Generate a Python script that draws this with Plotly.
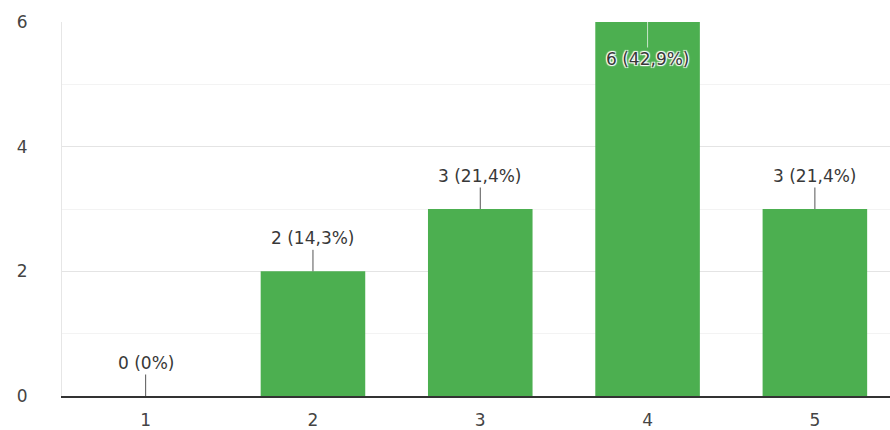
import plotly.graph_objects as go

# Response counts for each rating on the 1-5 scale
ratings = [1, 2, 3, 4, 5]
counts = [0, 2, 3, 6, 3]
y_ticks = [0, 2, 4, 6]

total = sum(counts)

FONT = "DejaVu Sans, Verdana, sans-serif"


def fmt_label(n):
    pct = round(100 * n / total, 1)
    s = f"{pct:.1f}".replace(".", ",")
    if s.endswith(",0"):
        s = s[:-2]
    return f"{n} ({s}%)"


labels = [fmt_label(c) for c in counts]
y_max = max(y_ticks)

fig = go.Figure(
    go.Bar(
        x=ratings,
        y=counts,
        width=0.625,
        marker=dict(color="#4caf50", line=dict(width=0)),
        hoverinfo="skip",
    )
)

halo = ("1px 1px 1px white, -1px -1px 1px white, "
        "1px -1px 1px white, -1px 1px 1px white")

# Value labels with a short leader line; the tallest bar gets its label inside
for r, c, lab in zip(ratings, counts, labels):
    inside = c >= y_max
    fig.add_annotation(
        x=r,
        y=c,
        text=lab,
        showarrow=True,
        arrowhead=0,
        arrowwidth=1,
        arrowcolor="#c8e6c9" if inside else "#555555",
        ax=0,
        ay=37 if inside else -33,
        font=dict(family=FONT, size=17, color="#383838", shadow=halo),
    )

fig.update_layout(
    width=890,
    height=430,
    margin=dict(l=62, r=0, t=22, b=34),
    paper_bgcolor="white",
    plot_bgcolor="white",
    showlegend=False,
    bargap=0.375,
    xaxis=dict(
        range=[0.5, 5.449],
        tickmode="array",
        tickvals=ratings,
        ticktext=[str(r) for r in ratings],
        showgrid=False,
        zeroline=False,
        showline=True,
        linecolor="#333333",
        linewidth=2,
        ticks="",
        ticklabelstandoff=8,
        tickfont=dict(family=FONT, size=17, color="#444444"),
        fixedrange=True,
    ),
    yaxis=dict(
        range=[0, y_max],
        tickmode="array",
        tickvals=y_ticks,
        ticktext=[str(t) for t in y_ticks],
        showgrid=True,
        gridcolor="#e4e4e4",
        gridwidth=1,
        minor=dict(dtick=1, showgrid=True, gridcolor="#f3f3f3", gridwidth=1),
        zeroline=False,
        showline=True,
        linecolor="#e6e6e6",
        linewidth=1,
        ticks="",
        ticklabelstandoff=30,
        tickfont=dict(family=FONT, size=17, color="#444444"),
        fixedrange=True,
    ),
)

fig.write_html("out.html")
